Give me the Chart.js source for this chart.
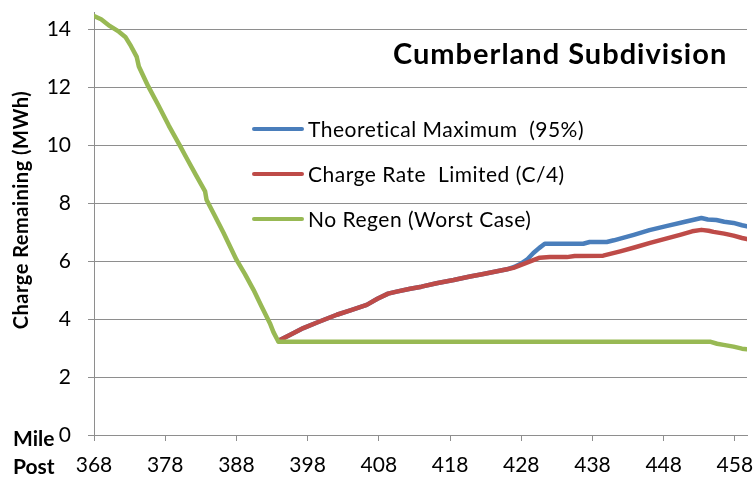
<!DOCTYPE html>
<html>
<head>
<meta charset="utf-8">
<script src="https://cdn.jsdelivr.net/npm/chart.js@4/dist/chart.umd.min.js"></script>
<style>
  html, body { margin: 0; padding: 0; background: #fff; }
  #wrap { width: 755px; height: 481px; position: relative; }
</style>
</head>
<body>
<div id="wrap"><canvas id="c" width="755" height="481"></canvas></div>
<script>
// ---- Data ----
const chartTitle = "Cumberland Subdivision";
const yAxisTitle = "Charge Remaining (MWh)";
const xTickValues = [368, 378, 388, 398, 408, 418, 428, 438, 448, 458];
const yTickValues = [0, 2, 4, 6, 8, 10, 12, 14];
const seriesNames = ["Theoretical Maximum  (95%)", "Charge Rate  Limited (C/4)", "No Regen (Worst Case)"];

const blueMiles  = [393.9, 395.5, 397.4, 399.5, 402.1, 404.0, 406.3, 407.8, 409.3, 410.5, 412.4, 414.0, 416.1, 418.5, 420.8, 422.5, 424.6, 426.0, 427.0, 428.0, 428.8, 429.7, 430.5, 431.3, 434.0, 436.7, 437.6, 440.0, 441.0, 443.8, 446.0, 448.5, 451.0, 453.3, 454.2, 455.4, 456.5, 457.8, 459.0, 459.7];
const blueCharge = [3.25, 3.45, 3.69, 3.90, 4.15, 4.30, 4.49, 4.70, 4.88, 4.95, 5.05, 5.12, 5.24, 5.35, 5.47, 5.55, 5.65, 5.72, 5.80, 5.92, 6.05, 6.28, 6.45, 6.60, 6.60, 6.60, 6.66, 6.66, 6.72, 6.91, 7.07, 7.22, 7.36, 7.49, 7.44, 7.42, 7.36, 7.32, 7.24, 7.20];

const redMiles  = [393.9, 395.5, 397.4, 399.5, 402.1, 404.0, 406.3, 407.8, 409.3, 410.5, 412.4, 414.0, 416.1, 418.5, 420.8, 422.5, 424.6, 426.0, 426.9, 428.8, 430.6, 432.0, 434.4, 435.5, 439.5, 441.9, 444.0, 446.1, 448.2, 450.3, 452.0, 453.3, 454.3, 455.0, 456.5, 457.8, 459.0, 459.7];
const redCharge = [3.25, 3.45, 3.69, 3.90, 4.15, 4.30, 4.49, 4.70, 4.88, 4.95, 5.05, 5.12, 5.24, 5.35, 5.47, 5.55, 5.65, 5.72, 5.77, 5.95, 6.12, 6.14, 6.14, 6.18, 6.19, 6.34, 6.48, 6.63, 6.77, 6.91, 7.03, 7.08, 7.05, 7.01, 6.95, 6.88, 6.80, 6.76];

const greenMiles  = [368.0, 369.0, 370.2, 371.5, 372.4, 373.2, 374.0, 374.3, 375.6, 377.0, 378.5, 380.1, 381.0, 382.3, 383.6, 383.8, 385.0, 386.2, 388.0, 389.2, 390.4, 391.5, 392.7, 393.2, 393.9, 410.0, 430.0, 454.5, 455.5, 456.4, 457.8, 459.0, 459.7];
const greenCharge = [14.46, 14.35, 14.12, 13.92, 13.74, 13.42, 13.05, 12.72, 12.04, 11.40, 10.68, 9.97, 9.56, 8.98, 8.41, 8.12, 7.55, 6.97, 6.05, 5.55, 5.01, 4.45, 3.86, 3.55, 3.22, 3.22, 3.22, 3.22, 3.15, 3.11, 3.05, 2.98, 2.96];

const seriesColors = ["#4A7EBB", "#BE4B48", "#98B954"];

// ---- Build datasets ----
function pts(xs, ys) { return xs.map((x, i) => ({ x: x, y: ys[i] })); }
const FONT = "Lato, 'Open Sans', sans-serif";

const datasets = [
  { label: seriesNames[0], data: pts(blueMiles, blueCharge), borderColor: seriesColors[0], order: 2 },
  { label: seriesNames[1], data: pts(redMiles, redCharge), borderColor: seriesColors[1], order: 1 },
  { label: seriesNames[2], data: pts(greenMiles, greenCharge), borderColor: seriesColors[2], order: 0 }
].map(d => Object.assign(d, {
  borderWidth: 4.5, pointRadius: 0, tension: 0, fill: false,
  borderJoinStyle: 'round', borderCapStyle: 'round'
}));

const GRID = '#8E8E8E';

const decorPlugin = {
  id: 'decor',
  afterDraw(chart) {
    const ctx = chart.ctx;
    ctx.save();
    // Title
    ctx.fillStyle = '#000';
    ctx.font = "bold 29px " + FONT;
    ctx.letterSpacing = '1px';
    ctx.textAlign = 'left';
    ctx.textBaseline = 'alphabetic';
    ctx.fillText(chartTitle, 393, 64);

    // Legend
    const ys = [129, 174, 219];
    chart.data.datasets.forEach((ds, i) => {
      ctx.strokeStyle = ds.borderColor;
      ctx.lineWidth = 4;
      ctx.lineCap = 'round';
      ctx.beginPath();
      ctx.moveTo(254, ys[i]);
      ctx.lineTo(302, ys[i]);
      ctx.stroke();
      ctx.fillStyle = '#000';
      ctx.font = "21px " + FONT;
      ctx.letterSpacing = '0.5px';
      ctx.textBaseline = 'middle';
      ctx.textAlign = 'left';
      ctx.fillText(ds.label, 308, ys[i] + 1);
    });

    // Y axis title
    ctx.save();
    ctx.translate(22, 210);
    ctx.rotate(-Math.PI / 2);
    ctx.font = "bold 20px " + FONT;
    ctx.letterSpacing = '0.5px';
    ctx.textAlign = 'center';
    ctx.textBaseline = 'middle';
    ctx.fillText(yAxisTitle, 0, 0);
    ctx.restore();

    // Mile / Post
    ctx.font = "bold 21px " + FONT;
    ctx.letterSpacing = '0px';
    ctx.textAlign = 'left';
    ctx.textBaseline = 'middle';
    ctx.fillText("Mile", 13, 439);
    ctx.fillText("Post", 13, 467);
    ctx.restore();
  }
};

new Chart(document.getElementById('c'), {
  type: 'line',
  data: { datasets: datasets },
  plugins: [decorPlugin],
  options: {
    responsive: false,
    devicePixelRatio: 1,
    animation: false,
    events: [],
    layout: { padding: { top: 12, right: 8, left: 0, bottom: 0 } },
    plugins: { legend: { display: false }, tooltip: { enabled: false }, title: { display: false } },
    scales: {
      x: {
        type: 'linear', min: 368, max: 459.7,
        afterBuildTicks: (s) => { s.ticks = xTickValues.map(v => ({ value: v })); },
        afterFit: (s) => { s.height = 46; s.paddingLeft = 0; s.paddingRight = 0; },
        ticks: { font: { family: FONT, size: 21 }, color: '#000', padding: 12, maxRotation: 0, autoSkip: false },
        grid: { drawOnChartArea: false, drawTicks: true, tickLength: 6, color: GRID, lineWidth: 1 },
        border: { display: true, color: GRID, width: 1 }
      },
      y: {
        type: 'linear', min: 0, max: 14.6,
        afterBuildTicks: (s) => { s.ticks = yTickValues.map(v => ({ value: v })); },
        afterFit: (s) => { s.width = 94; s.paddingTop = 0; s.paddingBottom = 0; },
        ticks: { font: { family: FONT, size: 21 }, color: '#000', padding: 17 },
        grid: { drawTicks: true, tickLength: 6, color: GRID, lineWidth: 1 },
        border: { display: true, color: GRID, width: 1 }
      }
    }
  }
});
</script>
</body>
</html>
